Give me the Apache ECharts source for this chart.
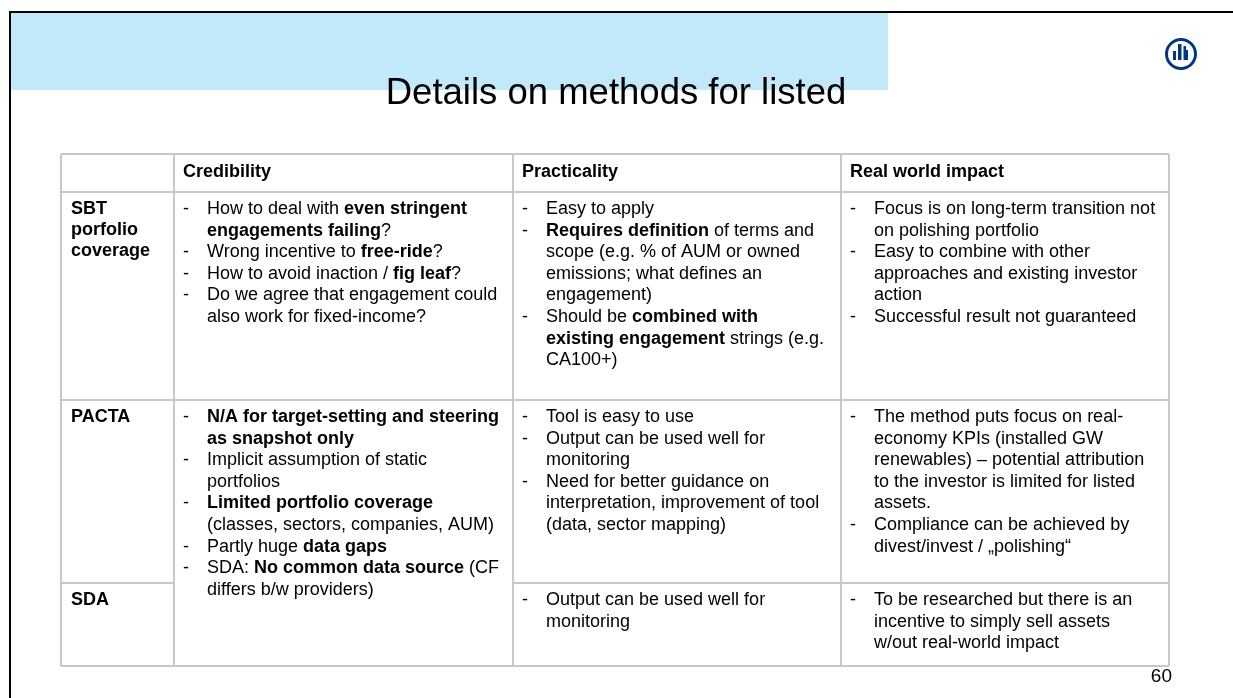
<!DOCTYPE html>
<html>
<head>
<meta charset="utf-8">
<script src="https://cdn.jsdelivr.net/npm/echarts@6/dist/echarts.min.js"></script>
<style>
html,body{margin:0;padding:0;background:#fff;}
#chart{width:1233px;height:698px;}
</style>
</head>
<body>
<div id="chart"></div>
<script>
// ---------- content ----------
const slideTitle = 'Details on methods for listed';
const pageNumber = '60';
const headers = ['Credibility', 'Practicality', 'Real world impact'];
const rowLabels = [['SBT', 'porfolio', 'coverage'], ['PACTA'], ['SDA']];

// each bullet = list of wrapped lines; **text** = bold
const sbtCredibility = [
  ['How to deal with **even stringent**', '**engagements failing**?'],
  ['Wrong incentive to **free-ride**?'],
  ['How to avoid inaction / **fig leaf**?'],
  ['Do we agree that engagement could', 'also work for fixed-income?']
];
const sbtPracticality = [
  ['Easy to apply'],
  ['**Requires definition** of terms and', 'scope (e.g. % of AUM or owned', 'emissions; what defines an', 'engagement)'],
  ['Should be **combined with**', '**existing engagement** strings (e.g.', 'CA100+)']
];
const sbtImpact = [
  ['Focus is on long-term transition not', 'on polishing portfolio'],
  ['Easy to combine with other', 'approaches and existing investor', 'action'],
  ['Successful result not guaranteed']
];
const pactaSdaCredibility = [
  ['**N/A for target-setting and steering**', '**as snapshot only**'],
  ['Implicit assumption of static', 'portfolios'],
  ['**Limited portfolio coverage**', '(classes, sectors, companies, AUM)'],
  ['Partly huge **data gaps**'],
  ['SDA: **No common data source** (CF', 'differs b/w providers)']
];
const pactaPracticality = [
  ['Tool is easy to use'],
  ['Output can be used well for', 'monitoring'],
  ['Need for better guidance on', 'interpretation, improvement of tool', '(data, sector mapping)']
];
const pactaImpact = [
  ['The method puts focus on real-', 'economy KPIs (installed GW', 'renewables) \u2013 potential attribution', 'to the investor is limited for listed', 'assets.'],
  ['Compliance can be achieved by', 'divest/invest / \u201Epolishing\u201C']
];
const sdaPracticality = [
  ['Output can be used well for', 'monitoring']
];
const sdaImpact = [
  ['To be researched but there is an', 'incentive to simply sell assets', 'w/out real-world impact']
];

// ---------- layout ----------
const FONT = '"Liberation Sans", Arial, Helvetica, sans-serif';
const FS = 18;
const LH = 21.6;
const colX = [61, 174, 513, 841, 1169];
const rowY = [154, 192, 400, 583, 666];
const LINE_COLOR = '#C8C8C8';
const TEXT_COLOR = '#000000';

const graphics = [];

// slide frame
graphics.push({ type: 'rect', shape: { x: 10, y: 12, width: 1240, height: 700 },
  style: { fill: 'none', stroke: '#000', lineWidth: 2 }, z: 10 });
// title band
graphics.push({ type: 'rect', shape: { x: 11, y: 13, width: 877, height: 77 },
  style: { fill: '#C2E9F9' }, z: 1 });
// title
graphics.push({ type: 'text', x: 616, y: 94, z: 5,
  style: { text: slideTitle, fontFamily: FONT, fontSize: 36.5, fill: TEXT_COLOR,
    align: 'center', verticalAlign: 'middle' } });

// logo
const lc = { x: 1181, y: 54 };
graphics.push({ type: 'circle', shape: { cx: lc.x, cy: lc.y, r: 14.5 },
  style: { fill: '#fff', stroke: '#003781', lineWidth: 3 }, z: 5 });
graphics.push({ type: 'rect', shape: { x: lc.x - 8, y: lc.y - 3, width: 3, height: 9 }, style: { fill: '#003781' }, z: 6 });
graphics.push({ type: 'rect', shape: { x: lc.x - 3, y: lc.y - 10, width: 3.5, height: 16 }, style: { fill: '#003781' }, z: 6 });
graphics.push({ type: 'polygon', shape: { points: [[lc.x + 2.5, lc.y - 8], [lc.x + 5, lc.y - 8], [lc.x + 5, lc.y - 4], [lc.x + 7, lc.y - 4], [lc.x + 7, lc.y + 6], [lc.x + 2.5, lc.y + 6]] }, style: { fill: '#003781' }, z: 6 });

// table lines
function hline(y, x1, x2) {
  graphics.push({ type: 'line', shape: { x1: x1, y1: y, x2: x2, y2: y },
    style: { stroke: LINE_COLOR, lineWidth: 2 }, z: 3 });
}
function vline(x, y1, y2) {
  graphics.push({ type: 'line', shape: { x1: x, y1: y1, x2: x, y2: y2 },
    style: { stroke: LINE_COLOR, lineWidth: 2 }, z: 3 });
}
hline(rowY[0], colX[0], colX[4]);
hline(rowY[1], colX[0], colX[4]);
hline(rowY[2], colX[0], colX[4]);
hline(rowY[3], colX[0], colX[1]);
hline(rowY[3], colX[2], colX[4]);
hline(rowY[4], colX[0], colX[4]);
colX.forEach(x => vline(x, rowY[0], rowY[4]));

// rich text helper
function toRich(line) {
  const parts = line.split('**');
  let out = '';
  parts.forEach((p, i) => {
    if (!p) return;
    out += '{' + (i % 2 ? 'b' : 'r') + '|' + p + '}';
  });
  return out;
}
const richStyles = {
  b: { fontFamily: FONT, fontSize: FS, fontWeight: 'bold', fill: TEXT_COLOR },
  r: { fontFamily: FONT, fontSize: FS, fontWeight: 'normal', fill: TEXT_COLOR }
};
function textLine(x, y, line, bold) {
  graphics.push({ type: 'text', x: x, y: y, z: 5,
    style: { text: bold ? '{b|' + line + '}' : toRich(line), rich: richStyles,
      fontFamily: FONT, fontSize: FS, fill: TEXT_COLOR, align: 'left', verticalAlign: 'middle' } });
}
function bullets(colIdx, top, items) {
  let y = top + 17;
  const xd = colX[colIdx] + 9, xt = colX[colIdx] + 33;
  items.forEach(lines => {
    graphics.push({ type: 'text', x: xd, y: y, z: 5,
      style: { text: '-', fontFamily: FONT, fontSize: FS, fill: TEXT_COLOR, align: 'left', verticalAlign: 'middle' } });
    lines.forEach(l => { textLine(xt, y, l, false); y += LH; });
  });
}

// headers
headers.forEach((h, i) => textLine(colX[i + 1] + 9, (rowY[0] + rowY[1]) / 2 - 1, h, true));
// row labels
[rowY[1], rowY[2], rowY[3]].forEach((top, r) => {
  rowLabels[r].forEach((l, k) => textLine(colX[0] + 10, top + 17 + k * 21, l, true));
});
// cells
bullets(1, rowY[1], sbtCredibility);
bullets(2, rowY[1], sbtPracticality);
bullets(3, rowY[1], sbtImpact);
bullets(1, rowY[2], pactaSdaCredibility);
bullets(2, rowY[2], pactaPracticality);
bullets(3, rowY[2], pactaImpact);
bullets(2, rowY[3], sdaPracticality);
bullets(3, rowY[3], sdaImpact);

// page number
graphics.push({ type: 'text', x: 1172, y: 677, z: 5,
  style: { text: pageNumber, fontFamily: FONT, fontSize: 19, fill: TEXT_COLOR, align: 'right', verticalAlign: 'middle' } });

const chart = echarts.init(document.getElementById('chart'), null, { renderer: 'canvas' });
chart.setOption({
  backgroundColor: '#ffffff',
  animation: false,
  graphic: { elements: graphics }
});
</script>
</body>
</html>
